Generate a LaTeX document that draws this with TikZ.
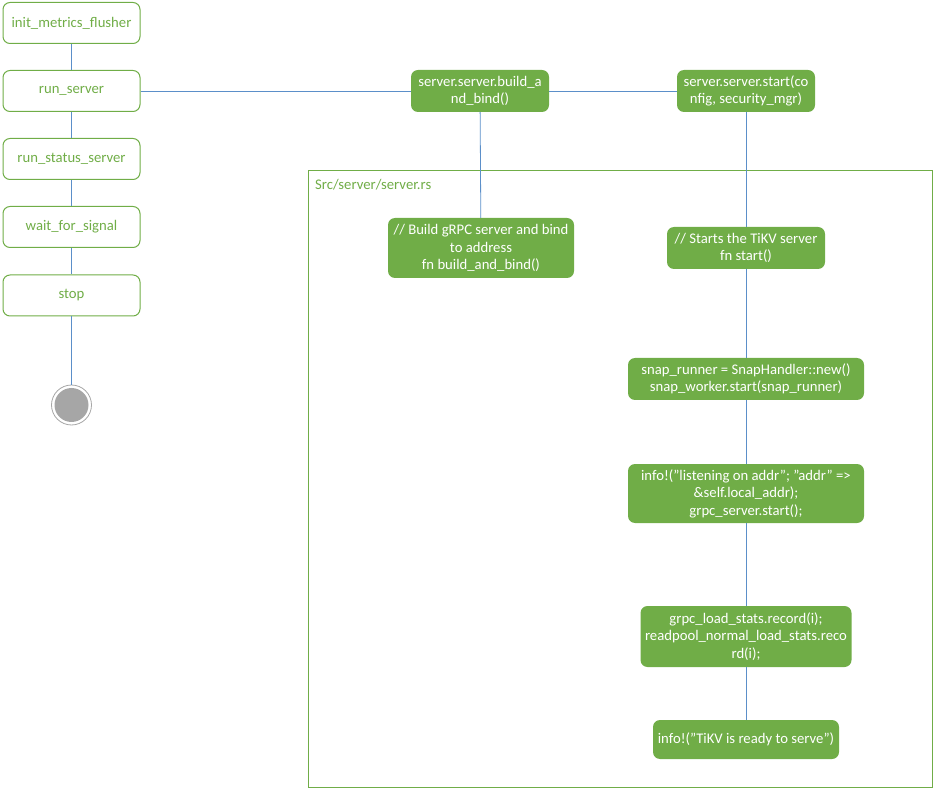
\documentclass[tikz,border=0pt]{standalone}
\usepackage{fontspec}
\setmainfont{Carlito}
\definecolor{boxgreen}{HTML}{70AD47}
\definecolor{linkblue}{HTML}{5B8FC9}
\definecolor{endgray}{HTML}{A6A6A6}

\tikzset{
  stepbox/.style={draw=boxgreen, line width=1pt, rounded corners=7pt, text=boxgreen,
    minimum width=137pt, minimum height=41pt},
  codebox/.style={fill=boxgreen, rounded corners=7pt, text=white, align=center,
    inner sep=1pt},
  link/.style={draw=linkblue, line width=0.8pt},
}

\begin{document}
\begin{tikzpicture}[x=1pt, y=-1pt, font=\fontsize{14.7}{17.6}\selectfont]
\useasboundingbox (0,0) rectangle (935,802);

%% main steps (left column)
\foreach\name/\lbl/\y in {flusher/init\_metrics\_flusher/23,
                          runsrv/run\_server/91,
                          status/run\_status\_server/159,
                          wait/wait\_for\_signal/227,
                          stop/stop/295.5}
  {
  \node[stepbox] (\name) at (71.5,\y) {\lbl};
  }

% end state
\node[circle, draw=endgray, line width=0.8pt, minimum size=40pt, inner sep=0pt] (end) at (71.5,405) {};
\fill[endgray] (end.center) circle (17);

% source file frame
\draw[boxgreen, line width=0.8pt] (308,170) rectangle (932,787);
\node[anchor=west, text=boxgreen, inner sep=0pt] (file) at (315,185) {Src/server/server.rs};

%% server calls
\node[codebox, minimum width=138pt, minimum height=42pt] (build) at (480,91)
  {server.server.build\_a\\nd\_bind()};
\node[codebox, minimum width=138pt, minimum height=42pt] (start) at (746,91)
  {server.server.start(co\\nfig, security\_mgr)};

% inside server.rs
\node[codebox, minimum width=186pt, minimum height=60pt] (buildfn) at (481,248)
  {// Build gRPC server and bind\\to address\\fn build\_and\_bind()};
\node[codebox, minimum width=158pt, minimum height=42pt] (startfn) at (746,248)
  {// Starts the TiKV server\\fn start()};
\node[codebox, minimum width=236pt, minimum height=42pt] (snap) at (746,379)
  {snap\_runner = SnapHandler::new()\\snap\_worker.start(snap\_runner)};
\node[codebox, minimum width=236pt, minimum height=59pt] (listen) at (746,493.5)
  {info!("listening on addr"; "addr" =>\\\&self.local\_addr);\\grpc\_server.start();};
\node[codebox, minimum width=211pt, minimum height=61pt] (record) at (746,636.5)
  {grpc\_load\_stats.record(i);\\readpool\_normal\_load\_stats.reco\\rd(i);};
\node[codebox, minimum width=186pt, minimum height=39pt] (ready) at (746,739.5)
  {info!("TiKV is ready to serve")};

%% connectors
\path[link] (flusher) -- (runsrv) -- (status) -- (wait) -- (stop) -- (end);
\path[link] (runsrv) -- (build) -- (start);
\path[link] (build) -- (buildfn);
\path[link] (start) -- (startfn) -- (snap) -- (listen) -- (record) -- (ready);

\end{tikzpicture}
\end{document}
